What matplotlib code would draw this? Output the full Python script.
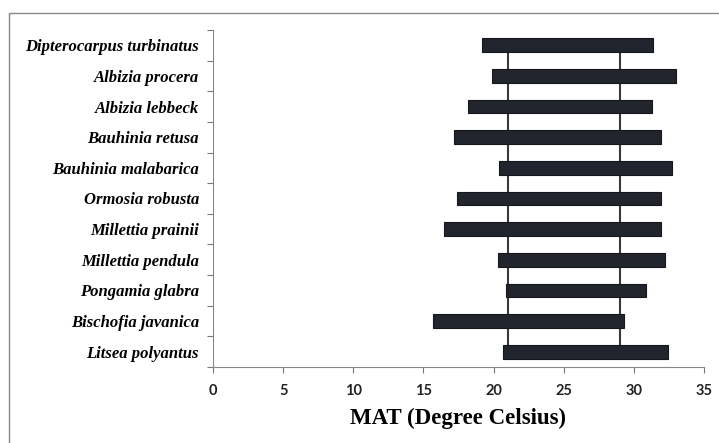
import matplotlib
matplotlib.use("Agg")
import matplotlib.pyplot as plt
import numpy as np
from matplotlib.patches import Rectangle

species = ["Dipterocarpus turbinatus", "Albizia procera", "Albizia lebbeck",
           "Bauhinia retusa", "Bauhinia malabarica", "Ormosia robusta",
           "Millettia prainii", "Millettia pendula", "Pongamia glabra",
           "Bischofia javanica", "Litsea polyantus"]
mat_min = [19.2, 19.9, 18.2, 17.2, 20.4, 17.4, 16.5, 20.3, 20.9, 15.7, 20.7]
mat_max = [31.4, 33.0, 31.3, 31.9, 32.7, 31.9, 31.9, 32.2, 30.9, 29.3, 32.4]
ref_lines = [21.0, 29.0]
xticks = [0, 5, 10, 15, 20, 25, 30, 35]

fig = plt.figure(figsize=(7.19, 4.43), dpi=100)
ax = fig.add_axes([213/719, 1-367/443, (704-213)/719, (367-30)/443])

n = len(species)
ypos = np.arange(n)
widths = np.array(mat_max) - np.array(mat_min)

for x in ref_lines:
    ax.plot([x, x], [0, n-1], color="#3a3a3a", lw=1.5, zorder=1)

ax.barh(ypos, widths, left=mat_min, height=0.45, color="#22252e",
        edgecolor="#15171c", linewidth=0.8, zorder=2)

ax.set_ylim(n-0.5, -0.5)
ax.set_xlim(0, 35)
ax.set_xticks(xticks)
ax.set_xticklabels([str(t) for t in xticks], fontfamily="Lato", fontsize=10.5,
                   fontweight="bold", color="#222222")
ax.set_yticks(ypos)
ax.set_yticklabels(species, fontfamily="Liberation Serif", fontstyle="italic",
                   fontweight="bold", fontsize=12)
ax.set_yticks(np.arange(n+1)-0.5, minor=True)
ax.tick_params(axis="y", which="major", length=0, pad=10)
ax.tick_params(axis="y", which="minor", length=4, color="#777777", width=0.8)
ax.tick_params(axis="x", which="major", length=4, color="#777777", width=0.8, pad=8)

for s in ["top", "right"]:
    ax.spines[s].set_visible(False)
for s in ["left", "bottom"]:
    ax.spines[s].set_color("#888888")
    ax.spines[s].set_linewidth(0.8)

ax.set_xlabel("MAT (Degree Celsius)", fontfamily="Liberation Serif",
              fontweight="bold", fontsize=16.5, labelpad=7)

fig.patches.append(Rectangle((9/719, -0.1), 1.2, 1.1 - 13/443,
                             transform=fig.transFigure, fill=False,
                             edgecolor="#888888", linewidth=1.0))

fig.savefig("out.png", dpi=100)
